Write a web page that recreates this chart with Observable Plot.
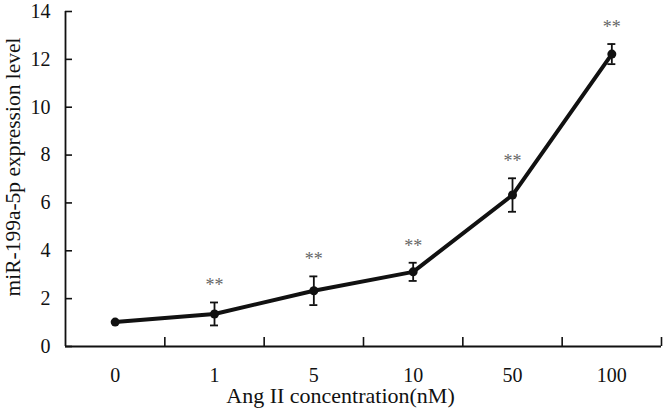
<!DOCTYPE html>
<html>
<head>
<meta charset="utf-8">
<script src="https://cdn.jsdelivr.net/npm/d3@7"></script>
<script src="https://cdn.jsdelivr.net/npm/@observablehq/plot@0.6"></script>
<style>
  html, body { margin: 0; padding: 0; background: #fff; }
  #chart { width: 666px; height: 410px; }
</style>
</head>
<body>
<div id="chart"></div>
<script>
// ---- data ----
const categories = ["0", "1", "5", "10", "50", "100"];
const means = [1.02, 1.36, 2.33, 3.12, 6.33, 12.22];
const errors = [0, 0.48, 0.6, 0.38, 0.7, 0.42];
const significant = [false, true, true, true, true, true];
const yTicks = [0, 2, 4, 6, 8, 10, 12, 14];
const xTitle = "Ang II concentration(nM)";
const yTitle = "miR-199a-5p expression level";

// ---- layout ----
const W = 666, H = 410;
const mL = 65, mR = 5, mT = 11, mB = 64;
const pxPerY = (H - mT - mB) / 14;
const pxPerX = (W - mL - mR) / categories.length;
const font = "'Liberation Serif', 'Times New Roman', serif";

const rows = categories.map((c, i) => ({i, c, m: means[i], e: errors[i], sig: significant[i]}));
const withErr = rows.filter(d => d.e > 0);
const boundaries = categories.map((_, i) => i + 0.5);
const capHalf = 4 / pxPerX;
const xTickLen = 9 / pxPerY;
const yTickLen = 7 / pxPerX;

const chart = Plot.plot({
  width: W, height: H,
  marginLeft: mL, marginRight: mR, marginTop: mT, marginBottom: mB,
  style: {fontFamily: font, background: "#fff", color: "#111"},
  x: {type: "linear", domain: [-0.5, categories.length - 0.5]},
  y: {domain: [0, 14]},
  marks: [
    // axes lines
    Plot.ruleX([-0.5], {stroke: "#111", strokeWidth: 1.8}),
    Plot.ruleY([0], {stroke: "#111", strokeWidth: 1.8}),
    // inward tick marks
    Plot.ruleX(boundaries, {x: d => d, y1: 0, y2: xTickLen, stroke: "#111", strokeWidth: 1.6}),
    Plot.ruleY(yTicks, {y: d => d, x1: -0.5, x2: -0.5 + yTickLen, stroke: "#111", strokeWidth: 1.6}),
    // axis labels
    Plot.axisY({ticks: yTicks, tickSize: 0, tickPadding: 15, fontSize: 20, label: null, tickFormat: d => String(d)}),
    Plot.axisX({ticks: d3.range(categories.length), tickSize: 0, tickPadding: 21, fontSize: 20, label: null,
      tickFormat: i => categories[i]}),
    // error bars
    Plot.ruleX(withErr, {x: "i", y1: d => d.m - d.e, y2: d => d.m + d.e, stroke: "#111", strokeWidth: 1.8}),
    Plot.ruleY(withErr, {y: d => d.m + d.e, x1: d => d.i - capHalf, x2: d => d.i + capHalf, stroke: "#111", strokeWidth: 1.8}),
    Plot.ruleY(withErr, {y: d => d.m - d.e, x1: d => d.i - capHalf, x2: d => d.i + capHalf, stroke: "#111", strokeWidth: 1.8}),
    // line + dots
    Plot.line(rows, {x: "i", y: "m", stroke: "#111", strokeWidth: 4, strokeLinejoin: "round"}),
    Plot.dot(rows, {x: "i", y: "m", r: 4.5, fill: "#111"}),
    // significance stars
    Plot.text(rows.filter(d => d.sig), {x: "i", y: d => d.m + d.e, text: () => "**", dy: -11, fontSize: 18, fill: "#666", lineAnchor: "bottom"}),
    // titles
    Plot.text([xTitle], {frameAnchor: "bottom", textAnchor: "middle", dx: -23, dy: 49, fontSize: 22, fill: "#111", lineAnchor: "middle"}),
    Plot.text([yTitle], {frameAnchor: "left", textAnchor: "middle", rotate: -90, dx: -52, dy: -12, fontSize: 21.5, fill: "#111", lineAnchor: "middle"})
  ]
});
document.getElementById("chart").appendChild(chart);
</script>
</body>
</html>
